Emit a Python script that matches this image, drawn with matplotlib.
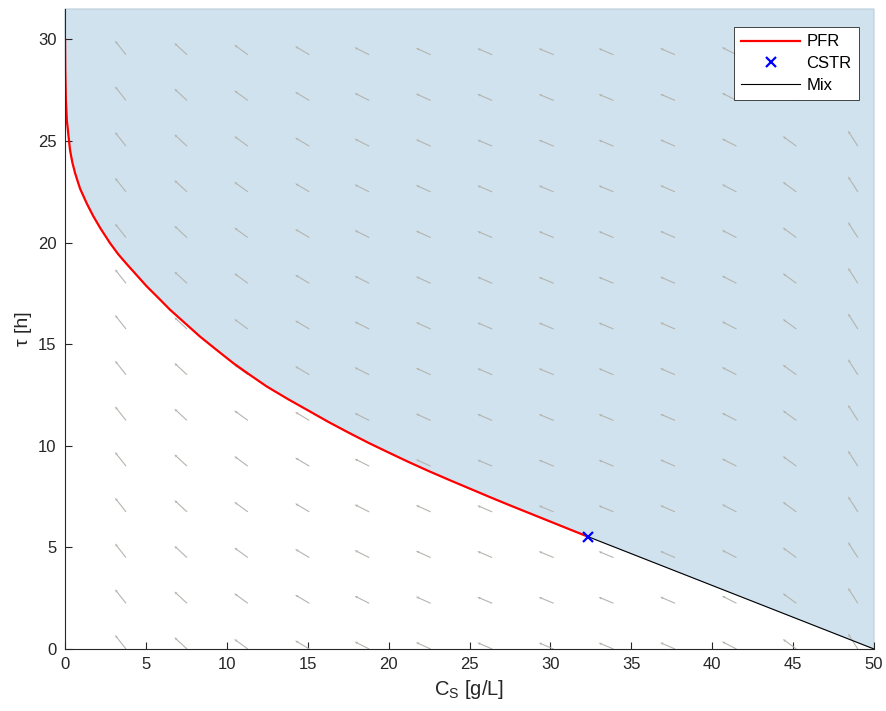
import numpy as np
import matplotlib
matplotlib.use("Agg")
import matplotlib.pyplot as plt

plt.rcParams['font.family'] = ['Liberation Sans', 'DejaVu Sans']
plt.rcParams['mathtext.fontset'] = 'custom'
plt.rcParams['mathtext.rm'] = 'Liberation Sans'
plt.rcParams['mathtext.it'] = 'Liberation Sans:italic'

# PFR trajectory (substrate concentration vs residence time)
pfr_cs = [0.005, 0.017, 0.054, 0.117, 0.25, 0.31, 0.45, 0.62, 0.8, 0.93,
          1.1, 1.35, 1.75, 2.2, 2.78, 3.3, 3.81, 4.43, 5.05, 5.77, 6.49,
          7.4, 8.34, 9.37, 10.4, 11.43, 12.47, 13.8, 15.14, 16.25, 17.5,
          18.75, 20.0, 21.25, 22.5, 23.75, 25.0, 26.25, 27.5, 28.75, 30.0,
          31.2, 32.35]
pfr_tau = [30.0, 28.5, 27.0, 26.0, 25.0, 24.56, 23.96, 23.43, 22.98, 22.66,
           22.36, 21.92, 21.3, 20.69, 19.98, 19.42, 18.95, 18.4, 17.85,
           17.28, 16.7, 16.05, 15.38, 14.72, 14.07, 13.49, 12.92, 12.29,
           11.69, 11.19, 10.66, 10.15, 9.67, 9.2, 8.75, 8.32, 7.9, 7.48,
           7.07, 6.67, 6.27, 5.885, 5.52]

# CSTR operating point and feed
cstr_cs = 32.35
cstr_tau = 5.52
feed_cs = 50.0
feed_tau = 0.0

# direction field: grid and local consumption rate -dCs/dtau per column
field_cs = [3.77, 7.54, 11.3, 15.1, 18.8, 22.6, 26.4, 30.2, 33.9, 37.7,
            41.5, 45.2, 49.0]
field_tau = [0.0, 2.25, 4.5, 6.75, 9.0, 11.25, 13.5, 15.75, 18.0, 20.25,
             22.5, 24.75, 27.0, 29.25]
field_rate = [0.99, 1.36, 1.72, 2.11, 2.5, 2.78, 2.95, 3.02, 3.02, 2.9,
              2.46, 1.72, 0.8]

xmax = 50
ymax = 31.5

fig = plt.figure(figsize=(8.86, 7.11), dpi=100)
ax = fig.add_axes([65 / 886, 1 - 649 / 711, 809 / 886, 640 / 711])

# attainable region: everything above the PFR curve and the mixing line
reg_x = [0, 0, xmax, xmax] + [feed_cs, cstr_cs] + pfr_cs[::-1]
reg_y = [pfr_tau[0], ymax, ymax, 0] + [feed_tau, cstr_tau] + pfr_tau[::-1]
ax.fill(reg_x, reg_y, facecolor='#d0e2ee', edgecolor='#bccddb', lw=0.8,
        zorder=1, clip_on=False)

# unit-length arrows in data space
X, Y = np.meshgrid(field_cs, field_tau)
rate = np.array(field_rate)
norm = np.sqrt(rate ** 2 + 1)
U = np.tile(-rate / norm, (len(field_tau), 1))
V = np.tile(1 / norm, (len(field_tau), 1))
ax.quiver(X, Y, U, V, angles='xy', scale_units='xy', scale=1 / 0.97,
          color='#b4b4ae', units='dots', width=1.1, headwidth=2.5,
          headlength=3, headaxislength=2.6, zorder=2)

ax.plot(pfr_cs, pfr_tau, color='#ff0000', lw=1.6, label='PFR', zorder=4)
ax.plot([cstr_cs], [cstr_tau], 'x', color='#0000ff', ms=7, mew=1.6,
        label='CSTR', zorder=5)
ax.plot([cstr_cs, feed_cs], [cstr_tau, feed_tau], color='black', lw=0.8,
        label='Mix', zorder=3)

ax.set_xlim(0, xmax)
ax.set_ylim(0, ymax)
ax.set_xticks(np.arange(0, 51, 5))
ax.set_yticks(np.arange(0, 31, 5))
for s in ['top', 'right']:
    ax.spines[s].set_visible(False)
for s in ['left', 'bottom']:
    ax.spines[s].set_color('#262626')
    ax.spines[s].set_linewidth(0.8)
    ax.spines[s].set_zorder(6)
ax.tick_params(direction='in', length=5, width=0.8, colors='#262626',
               labelsize=12, pad=6)

ax.set_xlabel('C$_\\mathrm{S}$ [g/L]', fontsize=14.5, color='#262626')
ax.set_ylabel('τ [h]', fontsize=14, color='#262626')

leg = ax.legend(loc='upper right', bbox_to_anchor=(0.9815, 0.972),
                borderaxespad=0, fontsize=12, fancybox=False, framealpha=1,
                edgecolor='#262626', handlelength=3.5, handletextpad=0.4,
                labelspacing=0.4, borderpad=0.45)
leg.get_frame().set_linewidth(0.6)
leg.set_zorder(7)

fig.savefig('out.png', dpi=100)
